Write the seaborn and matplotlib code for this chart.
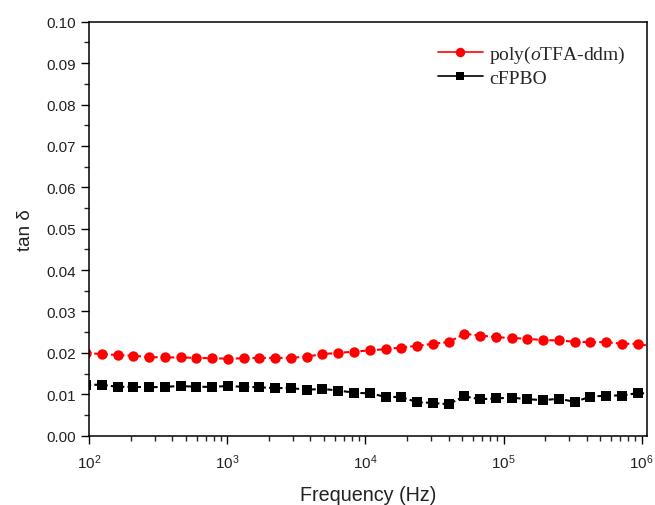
import numpy as np
import pandas as pd
import matplotlib
matplotlib.use("Agg")
import matplotlib.pyplot as plt
from matplotlib.lines import Line2D
from matplotlib.ticker import LogLocator, MultipleLocator, FormatStrFormatter
import seaborn as sns

freq = [95, 124, 161, 209, 272, 354, 460, 598, 778, 1012, 1316, 1711, 2225, 2893,
        3762, 4893, 6363, 8276, 10765, 14000, 18200, 23700, 30800, 40000, 52000,
        67700, 88000, 114500, 148900, 193600, 251800, 327500, 425900, 553900,
        720400, 936800, 1217000]
poly_otfa = [0.0200, 0.0197, 0.0195, 0.0193, 0.0190, 0.0189, 0.0189, 0.0188, 0.0187,
             0.0186, 0.0187, 0.0188, 0.0188, 0.0188, 0.0191, 0.0197, 0.0200, 0.0203,
             0.0206, 0.0209, 0.0213, 0.0217, 0.0222, 0.0226, 0.0246, 0.0242, 0.0238,
             0.0236, 0.0234, 0.0231, 0.0230, 0.0227, 0.0226, 0.0226, 0.0222, 0.0222,
             0.0215]
cfpbo = [0.0123, 0.0123, 0.0118, 0.0118, 0.0117, 0.0118, 0.0120, 0.0118, 0.0118,
         0.0120, 0.0118, 0.0117, 0.0115, 0.0115, 0.0111, 0.0113, 0.0109, 0.0104,
         0.0102, 0.0094, 0.0093, 0.0081, 0.0079, 0.0076, 0.0095, 0.0088, 0.0090,
         0.0092, 0.0088, 0.0086, 0.0089, 0.0082, 0.0094, 0.0097, 0.0097, 0.0103,
         0.0101]
labels = ["poly($\\it{o}$TFA-ddm)", "cFPBO"]

sns.set_theme(style="ticks")
plt.rcParams['font.family'] = ['Liberation Sans', 'DejaVu Sans']
plt.rcParams['mathtext.fontset'] = 'custom'
plt.rcParams['mathtext.it'] = 'Liberation Serif:italic'
plt.rcParams['mathtext.rm'] = 'Liberation Serif'

df = pd.DataFrame({"freq": freq, "poly": poly_otfa, "cfpbo": cfpbo})

fig = plt.figure(figsize=(6.55, 5.06), dpi=100)
ax = fig.add_axes([0.1359, 0.137, 0.9873 - 0.1359, 0.9551 - 0.137])

sns.lineplot(data=df, x="freq", y="poly", ax=ax, color="#ff0000", marker="o",
             markersize=7.5, markeredgewidth=0, linewidth=1.5, linestyle=(0, (2.5, 1.5)))
sns.lineplot(data=df, x="freq", y="cfpbo", ax=ax, color="#000000", marker="s",
             markersize=6.5, markeredgewidth=0, linewidth=1.5, linestyle=(0, (2.5, 1.5)))

ax.set_xscale("log")
ax.set_xlim(100, 1.087e6)
ax.set_ylim(0, 0.10)
ax.yaxis.set_major_locator(MultipleLocator(0.01))
ax.yaxis.set_minor_locator(MultipleLocator(0.005))
ax.yaxis.set_major_formatter(FormatStrFormatter("%.2f"))
ax.xaxis.set_major_locator(LogLocator(base=10, numticks=10))
ax.xaxis.set_minor_locator(LogLocator(base=10, subs=np.arange(2, 10), numticks=20))

ax.tick_params(axis="both", which="major", direction="out", length=6, width=1.0,
               labelsize=11, color="black", labelcolor="#222222", top=False, right=False)
ax.tick_params(axis="x", which="major", pad=6)
ax.tick_params(axis="both", which="minor", direction="out", length=3.5, width=1.0,
               top=False, right=False)
for s in ax.spines.values():
    s.set_visible(True)
    s.set_linewidth(1.1)
    s.set_color("black")

ax.set_xlabel("Frequency (Hz)", fontsize=14.2, color="#222222", labelpad=10)
ax.set_ylabel("tan δ", fontsize=13.5, color="#222222", labelpad=9)

handles = [
    Line2D([], [], color="#ff0000", marker="o", markersize=6.8, markeredgewidth=0, linewidth=1.2),
    Line2D([], [], color="#000000", marker="s", markersize=5.4, markeredgewidth=0, linewidth=1.2),
]
ax.legend(handles, labels, loc="upper left", bbox_to_anchor=(0.612, 0.966), frameon=False,
          prop={"family": "Liberation Serif", "size": 14}, handlelength=2.3,
          handletextpad=0.32, labelspacing=0.22, borderaxespad=0.0)

fig.savefig("out.png", dpi=100)
